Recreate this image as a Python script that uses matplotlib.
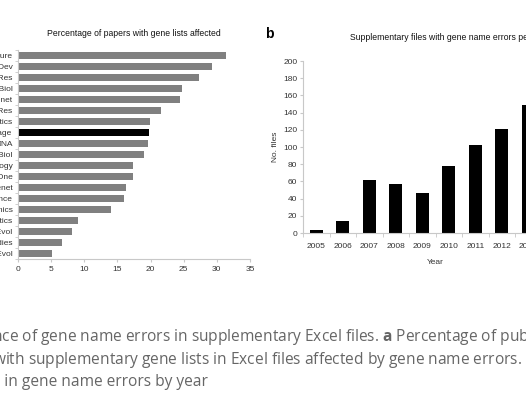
import matplotlib.pyplot as plt

plt.rcParams['font.family'] = ['Liberation Sans', 'DejaVu Sans']
plt.rcParams['mathtext.fontset'] = 'custom'
plt.rcParams['mathtext.rm'] = 'Open Sans'
plt.rcParams['mathtext.bf'] = 'Open Sans:bold'

# panel a: percentage of papers with gene lists affected
journals = ['Nature', 'Genes Dev', 'Genome Res', 'Genome Biol', 'Nat Genet',
            'Nucleic Acids Res', 'Bioinformatics', 'Average', 'RNA',
            'Mol Cell Biol', 'Plant Physiology', 'PLoS One', 'PLoS Genet',
            'Science', 'BMC Genomics', 'BMC Bioinformatics', 'Mol Biol Evol',
            'Genome Studies', 'Genome Biol Evol']
pct = [31.4, 29.3, 27.3, 24.7, 24.5, 21.5, 19.9, 19.8, 19.6, 19.0,
       17.4, 17.3, 16.3, 16.0, 14.0, 9.1, 8.1, 6.7, 5.2]

# panel b: supplementary files with gene name errors per year
years = ['2005', '2006', '2007', '2008', '2009', '2010', '2011', '2012', '2013']
files = [4, 14, 62, 57, 47, 78, 102, 121, 149]

caption = [
    'Prevalence of gene name errors in supplementary Excel files. '
    r'$\mathbf{a}$ Percentage of published',
    'papers with supplementary gene lists in Excel files affected by gene name errors. '
    r'$\mathbf{b}$',
    'Increase in gene name errors by year',
]

W, H = 526, 394
fig = plt.figure(figsize=(W / 100, H / 100), dpi=100)

spine_col = '#c8c8c8'
txt_col = '#333333'
fs = 6


def px(x0, y_top, w, h):
    return [x0 / W, 1 - (y_top + h) / H, w / W, h / H]


def style_spines(ax):
    for s in ['top', 'right']:
        ax.spines[s].set_visible(False)
    for s in ['left', 'bottom']:
        ax.spines[s].set_color(spine_col)
        ax.spines[s].set_linewidth(0.8)


# ---- panel a ----
ax1 = fig.add_axes(px(18, 50, 232, 209))
colors = ['black' if j == 'Average' else '#808080' for j in journals]
ax1.barh(range(len(journals)), pct, height=0.55, color=colors)
ax1.set_ylim(len(journals) - 0.5, -0.5)
ax1.set_xlim(0, 35)
ax1.set_xticks(range(0, 36, 5))
ax1.set_yticks(range(len(journals)))
ax1.set_yticklabels(journals)
ax1.set_yticks([i + 0.5 for i in range(-1, len(journals))], minor=True)
ax1.tick_params(axis='y', which='major', length=0, pad=4, labelsize=fs, labelcolor=txt_col)
ax1.tick_params(axis='y', which='minor', length=2, color=spine_col)
ax1.tick_params(axis='x', length=2, color=spine_col, pad=3, labelsize=fs, labelcolor=txt_col)
style_spines(ax1)
ax1.set_title('Percentage of papers with gene lists affected', fontsize=6.2,
              pad=10, color='#111111')

# ---- panel b ----
ax2 = fig.add_axes(px(303, 61, 265, 172))
ax2.bar(range(len(years)), files, width=0.5, color='black')
ax2.set_xlim(-0.5, 9.5)
ax2.set_ylim(0, 200)
ax2.set_yticks(range(0, 201, 20))
ax2.set_xticks(range(len(years)))
ax2.set_xticklabels(years)
ax2.set_xticks([i + 0.5 for i in range(-1, 10)], minor=True)
ax2.tick_params(axis='x', which='major', length=0, pad=7, labelsize=fs, labelcolor=txt_col)
ax2.tick_params(axis='x', which='minor', length=3, color=spine_col)
ax2.tick_params(axis='y', length=2, color=spine_col, pad=2, labelsize=fs, labelcolor=txt_col)
style_spines(ax2)
ax2.set_ylabel('No. files', fontsize=6, color=txt_col, labelpad=3)
ax2.set_xlabel('Year', fontsize=6, color=txt_col, labelpad=7)
fig.text(350 / W, 1 - 37 / H, 'Supplementary files with gene name errors per year',
         fontsize=6.2, color='#111111', va='center', ha='left')

fig.text(265 / W, 1 - 34 / H, 'b', fontsize=10, fontweight='bold', va='center', ha='left')

# ---- caption ----
for i, line in enumerate(caption):
    fig.text(-61 / W, 1 - (337 + 22.5 * i) / H, line, fontsize=11.2,
             family='Open Sans', color='#666666', va='center', ha='left')

fig.savefig('out.png', dpi=100)
